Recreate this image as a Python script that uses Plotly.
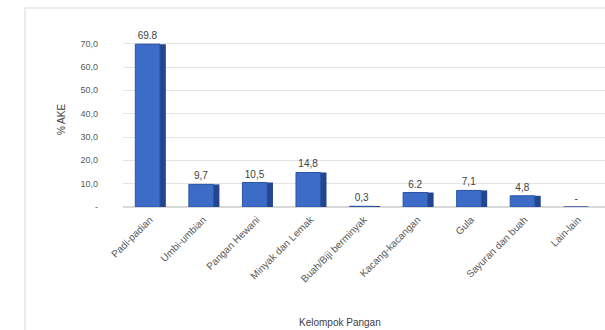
import plotly.graph_objects as go

categories = ["Padi-padian", "Umbi-umbian", "Pangan Hewani", "Minyak dan Lemak",
              "Buah/Biji berminyak", "Kacang-kacangan", "Gula", "Sayuran dan buah", "Lain-lain"]
values = [69.8, 9.7, 10.5, 14.8, 0.3, 6.2, 7.1, 4.8, 0.0]
value_labels = ["69.8", "9,7", "10,5", "14,8", "0,3", "6.2", "7,1", "4,8", "-"]
tick_vals = [0, 10, 20, 30, 40, 50, 60, 70]
tick_text = ["-", "10,0", "20,0", "30,0", "40,0", "50,0", "60,0", "70,0"]

W, H = 605, 330
ml, mr, mt, mb = 123, 0, 32, 123
pw = W - ml - mr
ph = H - mt - mb

fig = go.Figure()
# darker side (pseudo-3D depth)
fig.add_trace(go.Bar(
    x=categories, y=values, width=0.5, offset=-0.2,
    marker=dict(color="#23468f", line=dict(width=0)),
    hoverinfo="skip", showlegend=False,
))
fig.add_trace(go.Bar(
    x=categories, y=values, width=0.46, offset=-0.27,
    marker=dict(color="#3d6cc8", line=dict(color="#2c54a6", width=1)),
    text=value_labels, textposition="outside", cliponaxis=False,
    textfont=dict(family="Liberation Sans", size=10, color="#404040"),
    showlegend=False,
))

fig.update_layout(
    width=W, height=H,
    margin=dict(l=ml, r=mr, t=mt, b=mb),
    paper_bgcolor="white", plot_bgcolor="white",
    barmode="overlay",
    font=dict(family="Liberation Sans", color="#595959"),
    xaxis=dict(
        tickangle=-45, tickfont=dict(size=10, color="#595959"),
        showgrid=False, showline=False, zeroline=False,
        range=[-0.5, 8.5], ticks="", ticklabelstandoff=4,
    ),
    yaxis=dict(
        range=[0, 75], tickvals=tick_vals, ticktext=tick_text,
        tickfont=dict(size=9, color="#595959"),
        showgrid=True, gridcolor="#e4e4e4", gridwidth=1,
        zeroline=True, zerolinecolor="#d9d9d9",
        showline=False, ticks="", ticklabelstandoff=24,
        title=dict(text="% AKE", font=dict(size=10, color="#404040"), standoff=12),
    ),
    annotations=[
        dict(text="Kelompok Pangan", xref="paper", yref="paper",
             x=(340 - ml) / pw, y=-(322 - (mt + ph)) / ph,
             showarrow=False, xanchor="center", yanchor="middle",
             font=dict(size=10, color="#404040")),
    ],
    shapes=[
        dict(type="rect", xref="paper", yref="paper",
             x0=(25 - ml) / pw, x1=(W + 10 - ml) / pw,
             y0=-(H + 10 - mt - ph) / ph, y1=1 + (mt - 8) / ph,
             line=dict(color="#d9d9d9", width=1), layer="below"),
    ],
)

fig.write_html("out.html")
